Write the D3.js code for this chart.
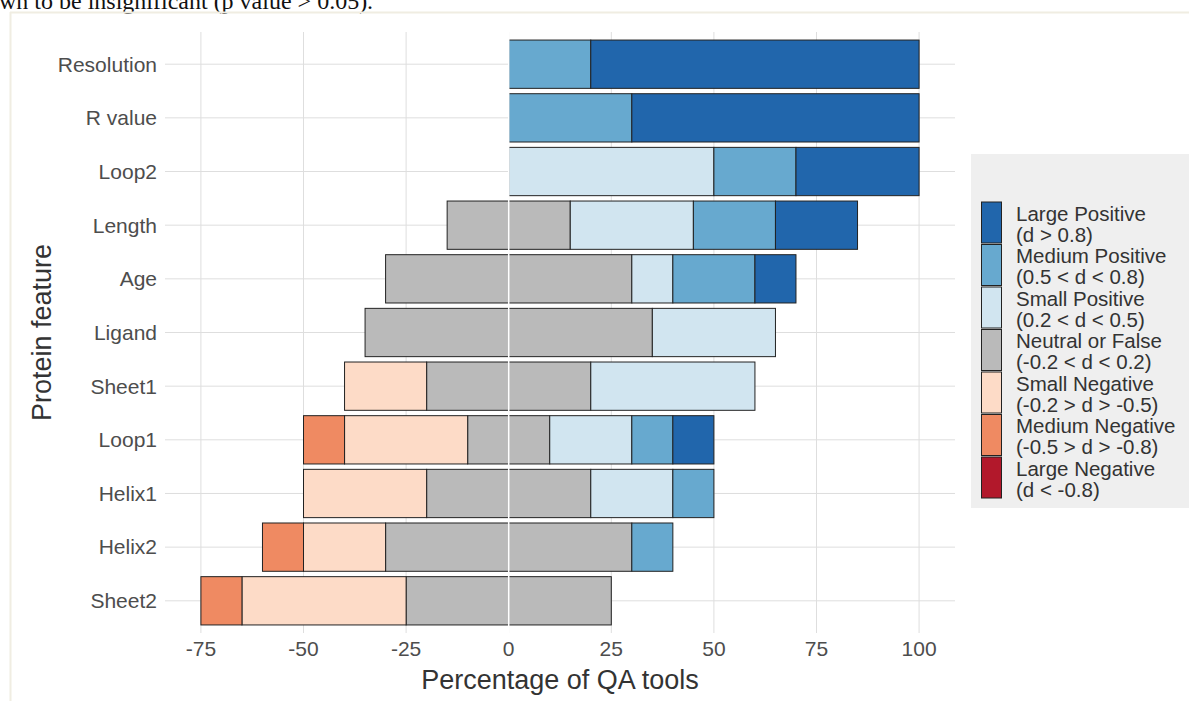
<!DOCTYPE html>
<html>
<head>
  <meta charset="utf-8">
  <title>Protein feature effect sizes</title>
  <style>
    body { margin: 0; background: white; }
    svg { display: block; font-family: "Liberation Sans", Arial, sans-serif; }
    .grid line { stroke: #dedede; stroke-width: 1; }
    .tick-label { fill: #4d4d4d; font-size: 21px; }
    .axis-title { fill: #333; font-size: 27px; }
    .legend-text { fill: #333; font-size: 20.5px; }
  </style>
  <script src="https://d3js.org/d3.v7.min.js"></script>
</head>
<body>
  <div id="chart"></div>
  <script>
    const width = 1189;
    const height = 701;

    // features, top to bottom
    const features = ["Resolution", "R value", "Loop2", "Length", "Age", "Ligand",
                      "Sheet1", "Loop1", "Helix1", "Helix2", "Sheet2"];

    // percentage of QA tools in each effect-size class
    const largeNeg  = [0, 0, 0, 0, 0, 0, 0, 0, 0, 0, 0];
    const mediumNeg = [0, 0, 0, 0, 0, 0, 0, 10, 0, 10, 10];
    const smallNeg  = [0, 0, 0, 0, 0, 0, 20, 30, 30, 20, 40];
    const neutral   = [0, 0, 0, 30, 60, 70, 40, 20, 40, 60, 50];
    const smallPos  = [0, 0, 50, 30, 10, 30, 40, 20, 20, 0, 0];
    const mediumPos = [20, 30, 20, 20, 20, 0, 0, 10, 10, 10, 0];
    const largePos  = [80, 70, 30, 20, 10, 0, 0, 10, 0, 0, 0];

    const xTicks = [-75, -50, -25, 0, 25, 50, 75, 100];

    const classNames = ["Large Positive", "Medium Positive", "Small Positive", "Neutral or False",
                        "Small Negative", "Medium Negative", "Large Negative"];
    const classRanges = ["(d > 0.8)", "(0.5 < d < 0.8)", "(0.2 < d < 0.5)", "(-0.2 < d < 0.2)",
                         "(-0.2 > d > -0.5)", "(-0.5 > d > -0.8)", "(d < -0.8)"];
    const classColors = ["#2166ac", "#67a9cf", "#d1e5f0", "#bababa", "#fddbc7", "#ef8a62", "#b2182b"];

    const panel = { left: 165, right: 955, top: 32, bottom: 633 };

    const svg = d3.select("#chart")
      .append("svg")
      .attr("width", width)
      .attr("height", height);

    // page bits around the figure (caption text above is cut by the page edge)
    svg.append("text")
      .attr("x", -1)
      .attr("y", 9)
      .attr("font-family", "Liberation Serif, Times New Roman, serif")
      .attr("font-size", 24)
      .attr("fill", "#111")
      .text("wn to be insignificant (p value > 0.05).");
    svg.append("line")
      .attr("x1", 10).attr("x2", width).attr("y1", 12.5).attr("y2", 12.5)
      .attr("stroke", "#f0ede2").attr("stroke-width", 2);
    svg.append("line")
      .attr("x1", 10.5).attr("x2", 10.5).attr("y1", 12).attr("y2", height)
      .attr("stroke", "#f0ede2").attr("stroke-width", 2);

    const x = d3.scaleLinear()
      .domain([-83.75, 108.75])
      .range([panel.left, panel.right]);

    const y = d3.scalePoint()
      .domain(features)
      .range([panel.top, panel.bottom])
      .padding(0.6);

    const barH = y.step() * 0.9;

    // grid
    const grid = svg.append("g").attr("class", "grid");
    grid.selectAll(".vline")
      .data(xTicks)
      .enter()
      .append("line")
      .attr("x1", d => x(d)).attr("x2", d => x(d))
      .attr("y1", panel.top).attr("y2", panel.bottom);
    grid.selectAll(".hline")
      .data(features)
      .enter()
      .append("line")
      .attr("x1", panel.left).attr("x2", panel.right)
      .attr("y1", d => y(d)).attr("y2", d => y(d));

    // build diverging segments: neutral centred on 0
    const segments = [];
    features.forEach((f, i) => {
      const half = neutral[i] / 2;
      if (neutral[i] > 0) segments.push({ f, x0: -half, x1: half, c: classColors[3] });
      let pos = half;
      [[smallPos, 2], [mediumPos, 1], [largePos, 0]].forEach(([arr, k]) => {
        if (arr[i] > 0) {
          segments.push({ f, x0: pos, x1: pos + arr[i], c: classColors[k] });
          pos += arr[i];
        }
      });
      let neg = -half;
      [[smallNeg, 4], [mediumNeg, 5], [largeNeg, 6]].forEach(([arr, k]) => {
        if (arr[i] > 0) {
          segments.push({ f, x0: neg - arr[i], x1: neg, c: classColors[k] });
          neg -= arr[i];
        }
      });
    });

    svg.append("g")
      .selectAll("rect")
      .data(segments)
      .enter()
      .append("rect")
      .attr("x", d => x(d.x0))
      .attr("width", d => x(d.x1) - x(d.x0))
      .attr("y", d => y(d.f) - barH / 2)
      .attr("height", barH)
      .attr("fill", d => d.c)
      .attr("stroke", "#222")
      .attr("stroke-width", 1);

    // white zero line on top
    svg.append("line")
      .attr("x1", x(0)).attr("x2", x(0))
      .attr("y1", panel.top).attr("y2", panel.bottom)
      .attr("stroke", "white").attr("stroke-width", 1.5);

    // axis labels
    svg.append("g")
      .selectAll("text")
      .data(features)
      .enter()
      .append("text")
      .attr("class", "tick-label")
      .attr("x", panel.left - 8)
      .attr("y", d => y(d))
      .attr("dy", "0.35em")
      .attr("text-anchor", "end")
      .text(d => d);

    svg.append("g")
      .selectAll("text")
      .data(xTicks)
      .enter()
      .append("text")
      .attr("class", "tick-label")
      .attr("x", d => x(d))
      .attr("y", 656)
      .attr("text-anchor", "middle")
      .text(d => d);

    svg.append("text")
      .attr("class", "axis-title")
      .attr("x", (panel.left + panel.right) / 2)
      .attr("y", 689)
      .attr("text-anchor", "middle")
      .text("Percentage of QA tools");

    svg.append("text")
      .attr("class", "axis-title")
      .attr("transform", `translate(51, ${(panel.top + panel.bottom) / 2}) rotate(-90)`)
      .attr("text-anchor", "middle")
      .text("Protein feature");

    // legend
    const legend = svg.append("g");
    legend.append("rect")
      .attr("x", 971).attr("y", 154)
      .attr("width", 220).attr("height", 354)
      .attr("fill", "#efefef");

    const keyH = 42.5;
    const keys = legend.selectAll(".key")
      .data(classNames)
      .enter()
      .append("g")
      .attr("transform", (d, i) => `translate(981, ${201.5 + i * keyH})`);

    keys.append("rect")
      .attr("x", 0.5).attr("y", 0.5)
      .attr("width", 20).attr("height", keyH - 1.5)
      .attr("fill", (d, i) => classColors[i])
      .attr("stroke", "#222")
      .attr("stroke-width", 1);

    keys.append("text")
      .attr("class", "legend-text")
      .attr("x", 35)
      .attr("y", 19)
      .text(d => d);

    keys.append("text")
      .attr("class", "legend-text")
      .attr("x", 35)
      .attr("y", 40)
      .text((d, i) => classRanges[i]);
  </script>
</body>
</html>
